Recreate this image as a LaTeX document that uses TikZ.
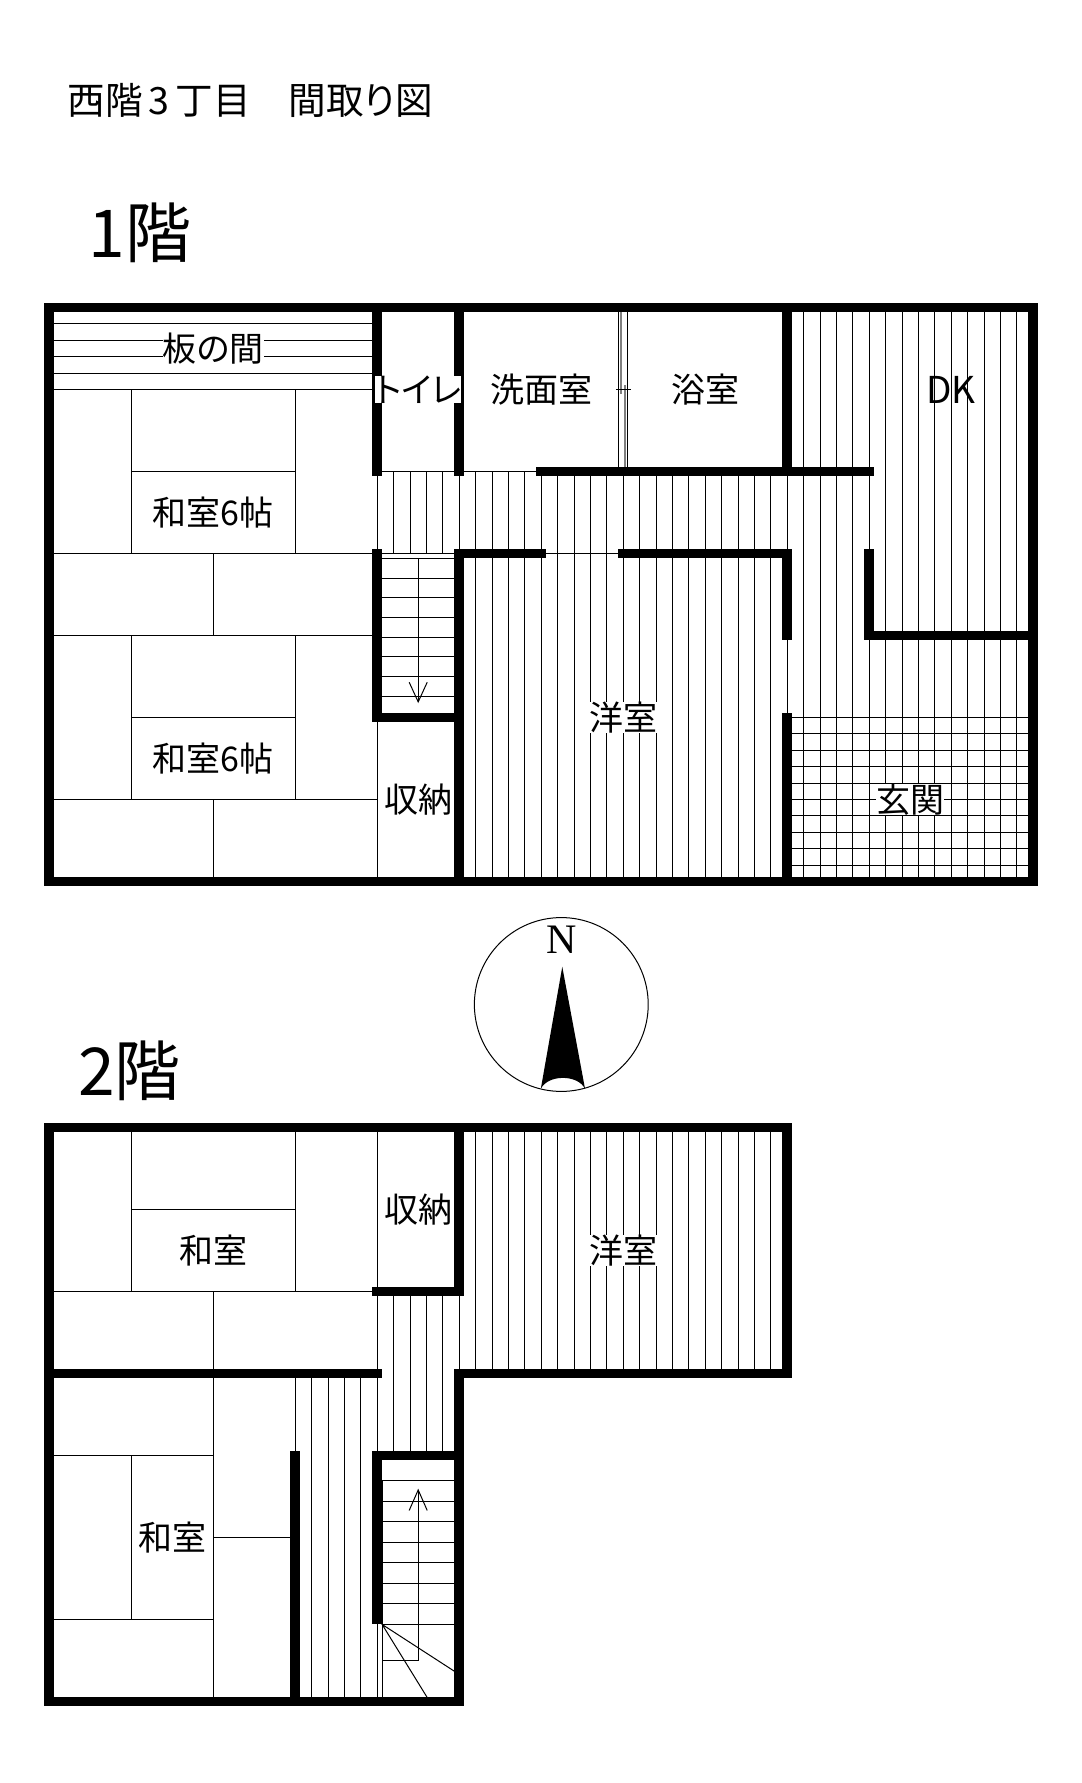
\documentclass[tikz,border=0pt]{standalone}
\usepackage{fontspec}
\setmainfont[RawFeature=+palt]{Noto Sans CJK JP}
\newfontfamily\compassfont{Liberation Serif}

\tikzset{
  wall/.style={black, line width=4.85pt, line cap=rect, line join=miter},
  outerwall/.style={black, line width=4.85pt, line join=miter},
  fine/.style={black, line width=0.5pt},
  doorrail/.style={gray, line width=1pt},
  room/.style={inner sep=0pt, font=\fontsize{17pt}{18pt}\selectfont},
  roommask/.style={room, fill=white},
  floorname/.style={anchor=west, inner sep=0pt, font=\fontsize{33pt}{36pt}\selectfont}
}

\begin{document}
\begin{tikzpicture} [x=41pt, y=-41pt]
\useasboundingbox (-0.6, -3.75) rectangle (12.595, 17.994);

\node[anchor=west, inner sep=0pt, font=\fontsize{18.8pt}{20pt}\selectfont] (title) at (0.22, -2.53) {西階\hspace{3pt}3\hspace{3pt}丁目　間取り図};
\node[floorname] (floorA) at (0.48, -0.91) {1階};
\node[floorname] (floorB) at (0.35, 9.31) {2階};

% first floor, boards
\foreach \y in {0.2, 0.4, 0.6, 0.8, 1} \draw[fine] (0, \y) -- (4, \y);
\foreach \x in {4, 4.2, 4.4, 4.6, 4.8, 5} \draw[fine] (\x, 2) -- (\x, 3);
\foreach \x in {5.2, 5.4, ..., 8.9} \draw[fine] (\x, 2) -- (\x, 7);
\foreach \x in {9.2, 9.4, ..., 11.9} \draw[fine] (\x, 0) -- (\x, 7);
\foreach \y in {5, 5.2, ..., 6.9} \draw[fine] (9, \y) -- (12, \y);
\draw[fine] (9, 2) -- (9, 3);
\draw[fine] (9, 4) -- (9, 5);
\draw[fine] (4, 2) -- (6, 2);
\draw[fine] (4, 3) -- (7, 3);

% first floor, tatami
\draw[fine] (1, 1) -- (1, 3);
\draw[fine] (3, 1) -- (3, 3);
\draw[fine] (1, 2) -- (3, 2);
\draw[fine] (0, 3) -- (4, 3);
\draw[fine] (2, 3) -- (2, 4);
\draw[fine] (0, 4) -- (4, 4);
\draw[fine] (1, 4) -- (1, 6);
\draw[fine] (3, 4) -- (3, 6);
\draw[fine] (1, 5) -- (3, 5);
\draw[fine] (0, 6) -- (4, 6);
\draw[fine] (2, 6) -- (2, 7);
\draw[fine] (4, 5) -- (4, 7);

% sliding door
\draw[fine] (6.94, 0) -- (6.94, 2);
\draw[fine] (7.05, 0) -- (7.05, 2);
\draw[doorrail] (6.97, 0) -- (6.97, 1.05);
\draw[doorrail] (7.02, 0.95) -- (7.02, 2);
\draw[fine] (6.91, 1) -- (7.09, 1);

% first floor, stairs
\foreach \y in {3.06, 3.3, ..., 5} \draw[fine] (4, \y) -- (5, \y);
\draw[fine] (4.5, 3.06) -- (4.5, 4.81);
\draw[fine] (4.39, 4.57) -- (4.5, 4.81) -- (4.61, 4.57);

% first floor, walls
\draw[outerwall] (0, 0) rectangle (12, 7);
\draw[wall] (4, 0) -- (4, 2);
\draw[wall] (4, 3) -- (4, 5) -- (5, 5);
\draw[wall] (5, 0) -- (5, 2);
\draw[wall] (5, 7) -- (5, 3) -- (6, 3);
\draw[wall] (7, 3) -- (9, 3) -- (9, 4);
\draw[wall] (9, 5) -- (9, 7);
\draw[wall] (9, 0) -- (9, 2);
\draw[wall] (6, 2) -- (10, 2);
\draw[wall] (10, 3) -- (10, 4) -- (12, 4);

\node[roommask] (boards) at (2, 0.5) {板の間};
\node[roommask] (toilet) at (4.5, 1) {トイレ};
\node[room] (washroom) at (6, 1) {洗面室};
\node[room] (bath) at (8, 1) {浴室};
\node[room, font=\fontsize{18.5pt}{18pt}\selectfont] (dk) at (11, 1) {DK};
\node[room] (tatamiA) at (2, 2.5) {和室6帖};
\node[room] (tatamiB) at (2, 5.5) {和室6帖};
\node[room] (closetA) at (4.5, 6) {収納};
\node[roommask] (westernA) at (7, 5) {洋室};
\node[roommask] (entrance) at (10.5, 6) {玄関};

% compass
\draw[fine] (6.245, 8.5) circle (1.06);
\fill (6.257, 8.04) -- (6.535, 9.53) .. controls (6.45, 9.35) and (6.08, 9.35) .. (5.995, 9.53) -- cycle;
\node[inner sep=0pt, font=\compassfont\fontsize{21pt}{22pt}\selectfont] (north) at (6.255, 7.71) {N};

% second floor, boards
\foreach \x in {5.2, 5.4, ..., 8.9} \draw[fine] (\x, 10) -- (\x, 13);
\foreach \x in {4.2, 4.4, 4.6, 4.8} \draw[fine] (\x, 12) -- (\x, 14);
\foreach \x in {3.2, 3.4, 3.6, 3.8} \draw[fine] (\x, 13) -- (\x, 17);
\draw[fine] (5, 12) -- (5, 13);
\draw[fine] (4, 12) -- (4, 14);
\draw[fine] (3, 13) -- (3, 14);

% second floor, tatami
\draw[fine] (1, 10) -- (1, 12);
\draw[fine] (3, 10) -- (3, 12);
\draw[fine] (1, 11) -- (3, 11);
\draw[fine] (0, 12) -- (4, 12);
\draw[fine] (4, 10) -- (4, 12);
\draw[fine] (2, 12) -- (2, 17);
\draw[fine] (0, 14) -- (2, 14);
\draw[fine] (1, 14) -- (1, 16);
\draw[fine] (0, 16) -- (2, 16);
\draw[fine] (2, 15) -- (3, 15);

% second floor, stairs
\foreach \y in {14.31, 14.56, ..., 16.1} \draw[fine] (4.06, \y) -- (5, \y);
\draw[fine] (4, 16) -- (4, 17);
\draw[fine] (4.06, 14.31) -- (4.06, 17);
\draw[fine] (4.5, 14.42) -- (4.5, 16.5) -- (4.06, 16.5);
\draw[fine] (4.39, 14.67) -- (4.5, 14.42) -- (4.61, 14.67);
\draw[fine] (4.94, 16.63) -- (4.06, 16.06) -- (4.64, 17);

% second floor, walls
\draw[outerwall] (0, 10) -- (9, 10) -- (9, 13) -- (5, 13) -- (5, 17) -- (0, 17) -- cycle;
\draw[wall] (5, 10) -- (5, 12) -- (4, 12);
\draw[wall] (0, 13) -- (4, 13);
\draw[wall] (3, 14) -- (3, 17);
\draw[wall] (4, 16) -- (4, 14) -- (5, 14);

\node[room] (closetB) at (4.5, 11) {収納};
\node[room] (tatamiC) at (2, 11.5) {和室};
\node[roommask] (westernB) at (7, 11.5) {洋室};
\node[room] (tatamiD) at (1.5, 15) {和室};
\end{tikzpicture}
\end{document}
